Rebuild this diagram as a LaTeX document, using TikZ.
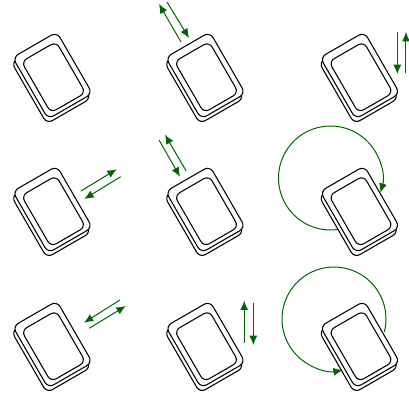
\documentclass[tikz,border=0pt]{standalone}
\usetikzlibrary{arrows.meta}
\definecolor{armgreen}{RGB}{0,100,0}
\newcommand{\var}{
\def\wc{25.5} % half short side of the card
\def\hc{35.5} % half long side of the card
\def\wi{20}   % same for the inner face
\def\hi{29.5}
\def\dyi{2}
\def\rarm{52} % swing radius
}
\newcommand{\scl}{0.0264}
\tikzset{
  cardline/.style={draw=black,line width=0.8pt,fill=white},
  motion/.style={draw=armgreen,line width=0.75pt,-{Latex[length=7pt,width=6pt]}}
}
\newcommand{\card}[2]{
  \begin{scope}[shift={(#1,-#2)},rotate=30]
    \draw[cardline,rounded corners=1.7mm] ({-\wc-3.5},{-\hc-3.5}) rectangle ({\wc-3.5},{\hc-3.5});
    \draw[cardline,rounded corners=1.7mm] ({-\wc},{-\hc}) rectangle ({\wc},{\hc});
    \draw[cardline,rounded corners=1.6mm] ({-\wi},{-\hi-\dyi}) rectangle ({\wi},{\hi-\dyi});
  \end{scope}
}

\begin{document}
\begin{tikzpicture}[x=\scl cm,y=\scl cm]
      \var
      \useasboundingbox (0,0) rectangle (409,-401);
%
      \foreach \xc in {52.5,205.5,360} {
        \foreach \yc in {75.5,209.5,344.5} {
          \card{\xc}{\yc}
        }
      }
%
      \draw[motion] (181,-42) -- (159,-4);
      \draw[motion] (167,-2) -- (189,-38);
%
      \draw[motion] (397.3,-32) -- (397.3,-74);
      \draw[motion] (406,-73) -- (406,-32);
%
      \draw[motion] (81,-191) -- (116.7,-169.3);
      \draw[motion] (120.7,-176.7) -- (84.3,-199);
%
      \draw[motion] (159,-140) -- (180,-176.7);
      \draw[motion] (186,-170.7) -- (165,-134.7);
%
      \draw[motion] (120,-300) -- (84,-322.7);
      \draw[motion] (89.3,-328.3) -- (125.7,-306);
%
      \draw[motion] (244.2,-343) -- (244.2,-300.7);
      \draw[motion] (253.3,-302.7) -- (253.3,-345);
%
      \coordinate (swingb) at (330.5,-178);
      \coordinate (swingc) at (334,-319);
      \draw[motion] (swingb) ++(278.4:\rarm) arc (278.4:-16.5:\rarm);
      \draw[motion] (swingc) ++(-14.6:\rarm) arc (-14.6:279.6:\rarm);
    \end{tikzpicture}
\end{document}
